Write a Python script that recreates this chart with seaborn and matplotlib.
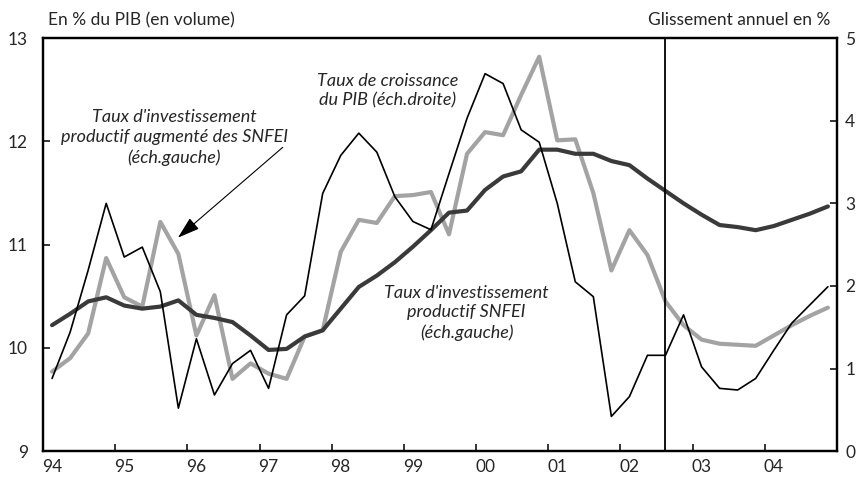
import numpy as np
import pandas as pd
import matplotlib.pyplot as plt
import seaborn as sns

# quarterly series, 1994T1 .. 2004T4
years = list(range(1994, 2005))
quarters = [f"{y}T{q}" for y in years for q in range(1, 5)]
year_labels = ["94", "95", "96", "97", "98", "99", "00", "01", "02", "03", "04"]

# Taux de croissance du PIB, glissement annuel en % (right axis)
croissance_pib = [0.88, 1.44, 2.19, 3.00, 2.35, 2.47, 1.93, 0.52, 1.36, 0.68, 1.06,
                  1.22, 0.76, 1.65, 1.88, 3.12, 3.58, 3.85, 3.62, 3.08, 2.78, 2.68,
                  3.36, 4.03, 4.57, 4.45, 3.89, 3.74, 3.00, 2.05, 1.87, 0.42, 0.66,
                  1.16, 1.16, 1.65, 1.02, 0.76, 0.74, 0.88, 1.22, 1.55, 1.77, 1.99]

# Taux d'investissement productif SNFEI, % du PIB (left axis)
invest_snfei = [10.22, 10.33, 10.45, 10.49, 10.41, 10.38, 10.40, 10.46, 10.32, 10.29,
                10.25, 10.12, 9.98, 9.99, 10.11, 10.17, 10.38, 10.59, 10.70, 10.83,
                10.98, 11.14, 11.31, 11.33, 11.53, 11.66, 11.71, 11.92, 11.92, 11.88,
                11.88, 11.81, 11.77, 11.64, 11.52, 11.40, 11.29, 11.19, 11.17, 11.14,
                11.18, 11.24, 11.30, 11.37]

# Taux d'investissement productif augmenté des SNFEI (left axis)
invest_augm = [9.77, 9.90, 10.14, 10.87, 10.49, 10.40, 11.22, 10.91, 10.12, 10.51,
               9.70, 9.85, 9.75, 9.70, 10.11, 10.17, 10.93, 11.24, 11.21, 11.47,
               11.48, 11.51, 11.10, 11.88, 12.09, 12.06, 12.45, 12.82, 12.01, 12.02,
               11.50, 10.75, 11.14, 10.90, 10.45, 10.22, 10.08, 10.04, 10.03, 10.02,
               10.12, 10.22, 10.31, 10.39]

df = pd.DataFrame({"trimestre": quarters,
                   "pib": croissance_pib,
                   "snfei": invest_snfei,
                   "augm": invest_augm})
# mid-quarter position in decimal years
df["t"] = [int(s[:4]) + (int(s[-1]) - 0.5) / 4 for s in quarters]

sns.set_style("ticks")
plt.rcParams["font.family"] = ["Lato", "DejaVu Sans"]
plt.rcParams["font.size"] = 12.5

fig = plt.figure(figsize=(8.61, 4.83), dpi=100)
ax = fig.add_axes([0.05, 0.066, 0.922, 0.855])
ax2 = ax.twinx()

sns.lineplot(data=df, x="t", y="augm", ax=ax, color="#a3a3a3", lw=3.0)
sns.lineplot(data=df, x="t", y="snfei", ax=ax, color="#3a3a3a", lw=3.0)
sns.lineplot(data=df, x="t", y="pib", ax=ax2, color="black", lw=1.2)

ax.axvline(2002.625, color="black", lw=1.3)

ax.set_xlim(1994, 2005)
ax.set_ylim(9, 13)
ax2.set_ylim(0, 5)
ax.set_xlabel("")
ax.set_ylabel("")
ax2.set_ylabel("")

ax.set_xticks(years)
ax.set_xticklabels([])
ax.set_xticks([y + 0.125 for y in years], minor=True)
ax.set_xticklabels(year_labels, minor=True)
ax.tick_params(axis="x", which="major", direction="in", length=5, width=1.3)
ax.tick_params(axis="x", which="minor", length=0, pad=6)
ax.set_yticks([9, 10, 11, 12, 13])
ax.set_yticklabels(["9", "10", "11", "12", "13"])
ax.tick_params(axis="y", direction="in", length=5, width=1.3, pad=11)
ax2.set_yticks([0, 1, 2, 3, 4, 5])
ax2.tick_params(axis="y", direction="in", length=5, width=1.3, pad=6)

for a in (ax, ax2):
    for s in a.spines.values():
        s.set_linewidth(1.6)
        s.set_color("black")

fig.text(0.056, 0.958, "En % du PIB (en volume)", ha="left", va="center")
fig.text(0.965, 0.958, "Glissement annuel en %", ha="right", va="center")

note = dict(ha="center", va="center", style="italic", fontsize=13, linespacing=1.3)
ax.text(1995.82, 12.04, "Taux d'investissement\nproductif augmenté des SNFEI\n(éch.gauche)", **note)
ax.annotate("", xy=(1995.84, 11.05), xytext=(1997.35, 11.96),
            arrowprops=dict(arrowstyle="-|>,head_length=1.1,head_width=0.35",
                            color="black", lw=0.8))
ax.text(1998.78, 12.49, "Taux de croissance\ndu PIB (éch.droite)", **note)
ax.text(1999.87, 10.34, "Taux d'investissement\nproductif SNFEI\n(éch.gauche)", **note)

fig.savefig("out.png", dpi=100)
